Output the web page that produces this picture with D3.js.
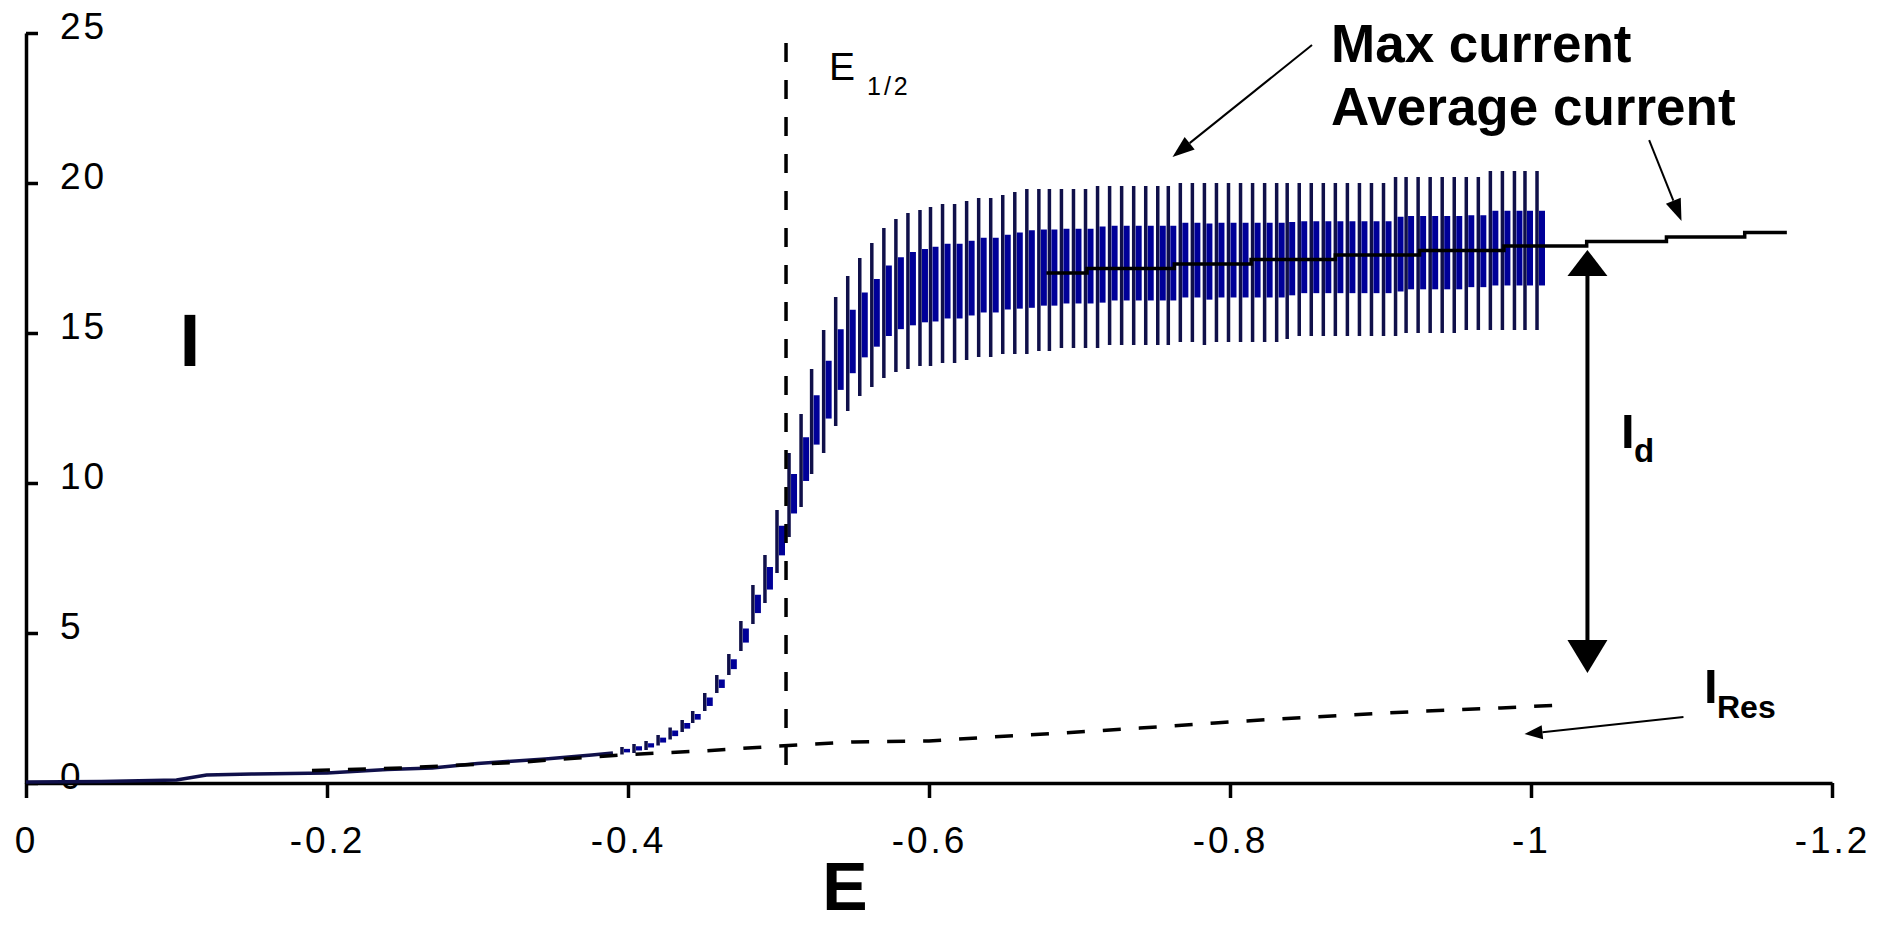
<!DOCTYPE html>
<html>
<head>
<meta charset="utf-8">
<script src="https://cdn.jsdelivr.net/npm/d3@7"></script>
<style>
  html, body { margin: 0; padding: 0; background: #fff; }
  svg { display: block; }
  .tick text { font-family: "Liberation Sans", Arial, sans-serif; font-size: 37px; letter-spacing: 3px; fill: #000; }
  .lbl { font-family: "Liberation Sans", Arial, sans-serif; fill: #000; }
</style>
</head>
<body>
<svg id="chart"></svg>
<script>
const xTicks = [0, -0.2, -0.4, -0.6, -0.8, -1, -1.2];
const yTicks = [0, 5, 10, 15, 20, 25];

// foot of the wave, before the drop oscillations show
const lowE = [0, -0.05, -0.10, -0.12, -0.15, -0.20, -0.24, -0.27, -0.30, -0.345, -0.376, -0.39];
const lowI = [0.03, 0.05, 0.10, 0.27, 0.30, 0.33, 0.45, 0.50, 0.65, 0.80, 0.93, 1.0];

// one entry per mercury drop: potential, min and max current
const dropE = [-0.396, -0.404, -0.412, -0.420, -0.428, -0.436, -0.443, -0.451, -0.459, -0.467,
  -0.475, -0.483, -0.491, -0.499, -0.507, -0.515, -0.522, -0.530, -0.538, -0.546,
  -0.554, -0.562, -0.570, -0.578, -0.586, -0.594, -0.601, -0.609, -0.617, -0.625,
  -0.633, -0.641, -0.649, -0.657, -0.665, -0.673, -0.680, -0.688, -0.696, -0.704,
  -0.712, -0.720, -0.728, -0.736, -0.744, -0.752, -0.759, -0.767, -0.775, -0.783,
  -0.791, -0.799, -0.807, -0.815, -0.823, -0.831, -0.838, -0.846, -0.854, -0.862,
  -0.870, -0.878, -0.886, -0.894, -0.902, -0.910, -0.917, -0.925, -0.933, -0.941,
  -0.949, -0.957, -0.965, -0.973, -0.981, -0.989, -0.996, -1.004];
const dropMin = [0.95, 1.0, 1.1, 1.25, 1.45, 1.7, 2.0, 2.4, 3.0, 3.6,
  4.4, 5.3, 6.0, 7.0, 8.2, 9.2, 10.3, 11.0, 11.9, 12.4,
  12.9, 13.2, 13.5, 13.7, 13.8, 13.9, 13.9, 14.0, 14.0, 14.1,
  14.2, 14.2, 14.3, 14.3, 14.3, 14.4, 14.4, 14.5, 14.5, 14.5,
  14.5, 14.6, 14.6, 14.6, 14.6, 14.6, 14.6, 14.7, 14.7, 14.6,
  14.7, 14.7, 14.7, 14.7, 14.7, 14.7, 14.8, 14.9, 14.9, 14.9,
  14.9, 14.9, 14.9, 14.9, 14.9, 14.9, 15.0, 15.0, 15.0, 15.0,
  15.0, 15.1, 15.1, 15.1, 15.1, 15.1, 15.1, 15.1];
const dropMax = [1.2, 1.3, 1.4, 1.6, 1.85, 2.1, 2.4, 3.0, 3.6, 4.3,
  5.4, 6.6, 7.6, 9.1, 11.0, 12.3, 13.8, 15.1, 16.2, 16.9,
  17.5, 18.0, 18.5, 18.8, 19.0, 19.1, 19.2, 19.3, 19.3, 19.4,
  19.5, 19.5, 19.6, 19.7, 19.8, 19.8, 19.8, 19.8, 19.8, 19.8,
  19.9, 19.9, 19.9, 19.9, 19.9, 19.9, 19.9, 20.0, 20.0, 20.0,
  20.0, 20.0, 20.0, 20.0, 20.0, 20.0, 20.0, 20.0, 20.0, 20.0,
  20.0, 20.0, 20.0, 20.0, 20.0, 20.2, 20.2, 20.2, 20.2, 20.2,
  20.2, 20.2, 20.2, 20.4, 20.4, 20.4, 20.4, 20.4];

// average current, drawn as steps
const avgE = [-0.678, -0.705, -0.763, -0.814, -0.870, -0.926, -0.982, -1.037, -1.090, -1.142, -1.170];
const avgI = [17.0, 17.15, 17.3, 17.45, 17.6, 17.75, 17.9, 18.05, 18.2, 18.35, 18.35];

// residual current (dashed)
const resE = [-0.19, -0.25, -0.33, -0.40, -0.45, -0.50, -0.55, -0.60, -0.64, -0.69, -0.74, -0.79, -0.83, -0.88, -0.93, -0.98, -1.02];
const resI = [0.42, 0.50, 0.70, 0.95, 1.07, 1.23, 1.37, 1.40, 1.53, 1.67, 1.83, 2.0, 2.13, 2.27, 2.4, 2.5, 2.6];

const halfWaveE = -0.505;

const W = 1887, H = 926;
const margin = {top: 33, right: 55, bottom: 143, left: 26};

const svg = d3.select("#chart").attr("width", W).attr("height", H);

const x = d3.scaleLinear().domain([0, -1.2]).range([margin.left, W - margin.right]);
const y = d3.scaleLinear().domain([0, 25]).range([H - margin.bottom, margin.top]);

const navy = "#10104a", blue = "#000098";

// axes
const xAxis = svg.append("g")
    .attr("transform", `translate(0, ${y(0)})`)
    .call(d3.axisBottom(x).tickValues(xTicks).tickFormat(d => String(d))
        .tickSize(15).tickSizeOuter(0).tickPadding(29));
const yAxis = svg.append("g")
    .attr("transform", `translate(${x(0)}, 0)`)
    .call(d3.axisRight(y).tickValues(yTicks).tickFormat(d => String(d))
        .tickSize(12).tickSizeOuter(0).tickPadding(22));
yAxis.selectAll(".tick text").attr("dy", "0.16em");
svg.selectAll(".domain, .tick line").attr("stroke", "#000").attr("stroke-width", 3.5);

// foot of the wave
svg.append("path")
    .attr("d", d3.line().x((d, i) => x(lowE[i])).y((d, i) => y(lowI[i]))(lowE))
    .attr("fill", "none")
    .attr("stroke", navy)
    .attr("stroke-width", 3.5);

// drop oscillations
const drops = dropE.map((e, i) => ({e: e, lo: dropMin[i], hi: dropMax[i]}));
svg.append("g").selectAll("line")
    .data(drops).join("line")
    .attr("x1", d => x(d.e)).attr("x2", d => x(d.e))
    .attr("y1", d => y(d.lo)).attr("y2", d => y(d.hi))
    .attr("stroke", navy)
    .attr("stroke-width", 3.5);
svg.append("g").selectAll("line")
    .data(drops).join("line")
    .attr("x1", d => x(d.e) + 5).attr("x2", d => x(d.e) + 5)
    .attr("y1", d => y(d.lo + 0.28 * (d.hi - d.lo)))
    .attr("y2", d => y(d.lo + 0.75 * (d.hi - d.lo)))
    .attr("stroke", blue)
    .attr("stroke-width", 6);

// residual current
svg.append("path")
    .attr("d", d3.line().x((d, i) => x(resE[i])).y((d, i) => y(resI[i]))(resE))
    .attr("fill", "none")
    .attr("stroke", "#000")
    .attr("stroke-width", 3.5)
    .attr("stroke-dasharray", "18,18");

// half-wave potential
svg.append("line")
    .attr("x1", x(halfWaveE)).attr("x2", x(halfWaveE))
    .attr("y1", y(24.67)).attr("y2", y(0))
    .attr("stroke", "#000")
    .attr("stroke-width", 3.5)
    .attr("stroke-dasharray", "19,18");

// average current
svg.append("path")
    .attr("d", d3.line().curve(d3.curveStepAfter).x((d, i) => x(avgE[i])).y((d, i) => y(avgI[i]))(avgE))
    .attr("fill", "none")
    .attr("stroke", "#000")
    .attr("stroke-width", 3.5);

// arrows
function arrow(x1, y1, x2, y2, len, half, w) {
    const a = Math.atan2(y2 - y1, x2 - x1);
    const bx = x2 - len * Math.cos(a), by = y2 - len * Math.sin(a);
    svg.append("line")
        .attr("x1", x1).attr("y1", y1).attr("x2", bx).attr("y2", by)
        .attr("stroke", "#000").attr("stroke-width", w);
    svg.append("polygon")
        .attr("points", [[x2, y2],
            [bx + half * Math.sin(a), by - half * Math.cos(a)],
            [bx - half * Math.sin(a), by + half * Math.cos(a)]].map(p => p.join(",")).join(" "))
        .attr("fill", "#000");
}
arrow(x(-0.8545), y(24.6), x(-0.7618), y(20.87), 22, 8, 2);
arrow(x(-1.0785), y(21.43), x(-1.1), y(18.73), 22, 8, 2);
arrow(x(-1.1013), y(2.2), x(-0.9957), y(1.63), 18, 7, 2);
// I_d double arrow
arrow(x(-1.0375), y(10.5), x(-1.0375), y(17.77), 26, 20, 4);
arrow(x(-1.0375), y(10.5), x(-1.0375), y(3.67), 33, 20, 4);

// labels
function label(txt, px, py, size, weight, anchor) {
    return svg.append("text").attr("class", "lbl")
        .attr("x", px).attr("y", py)
        .attr("font-size", size).attr("font-weight", weight)
        .attr("text-anchor", anchor || "start")
        .text(txt);
}
label("Max current", 1331, 62, 53, "bold");
label("Average current", 1331, 125, 53, "bold");
label("I", 190, 366, 75, "bold", "middle");
label("E", 845, 910, 68, "bold", "middle");
label("E", 829, 80, 39, "normal");
label("1/2", 867, 95, 25, "normal").attr("letter-spacing", 3);
label("I", 1621, 448, 49, "bold");
label("d", 1634, 462, 33, "bold");
label("I", 1704, 703, 49, "bold");
label("Res", 1717, 718, 32, "bold");
</script>
</body>
</html>
